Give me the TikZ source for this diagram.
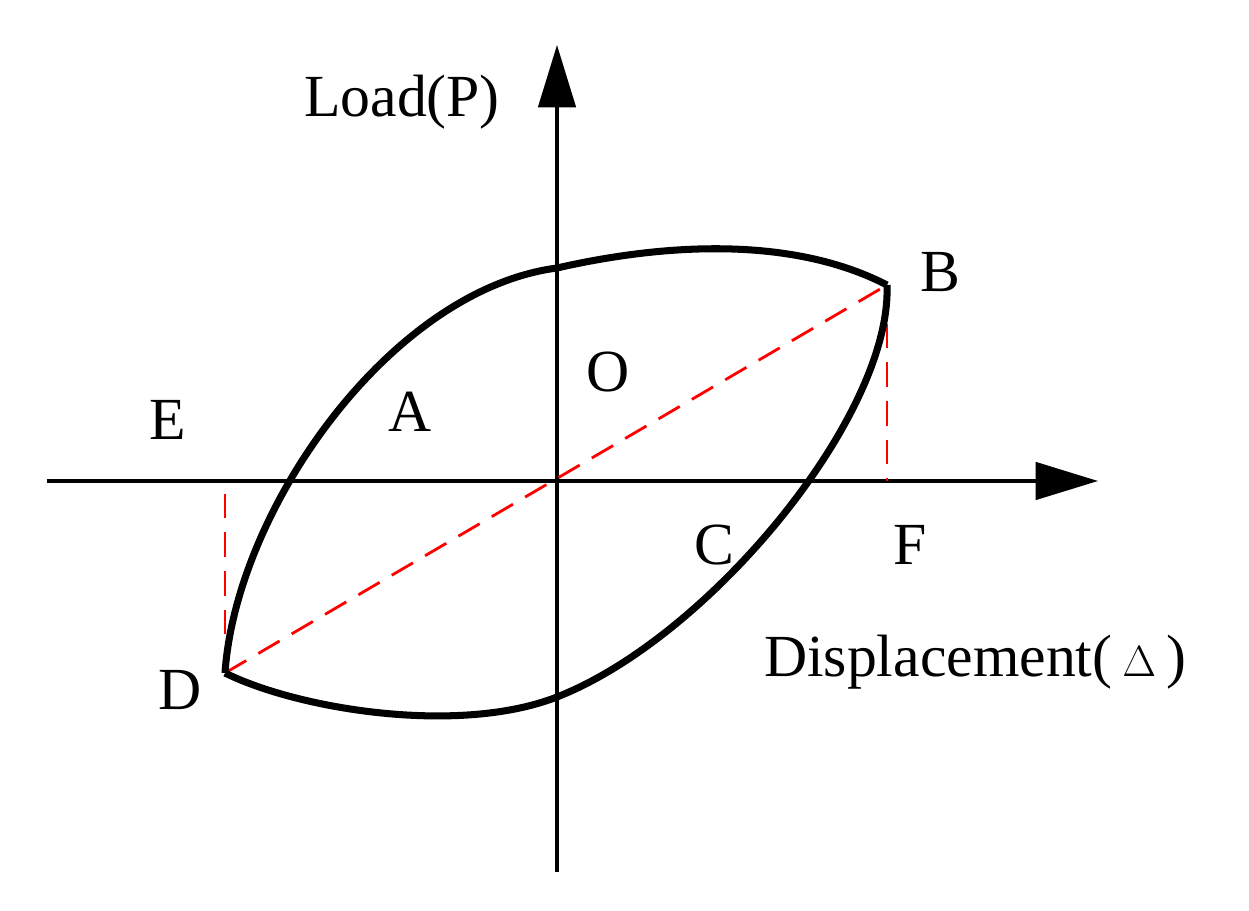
\documentclass[tikz,border=0pt]{standalone}
\usepackage{fontspec}
\setmainfont{Liberation Serif}
\usetikzlibrary{arrows.meta}
\begin{document}
\begin{tikzpicture}[x=0.02cm,y=-0.02cm,
  lbl/.style={font=\fontsize{34}{40}\selectfont,inner sep=0pt},
  ax/.style={line width=1.9pt,-{Triangle[length=1.25cm,width=0.75cm]}},
  curve/.style={line width=4pt},
  red/.style={draw=red,line width=1.6pt,dash pattern=on 14pt off 8pt}]
\useasboundingbox (0,0) rectangle (1249,911);
\coordinate (O) at (557,481);
\coordinate (B) at (887,285);
\coordinate (D) at (225,673);
\coordinate (F0) at (887,481);
\coordinate (E0) at (225,481);
\coordinate (yb) at (557,872);
\coordinate (yt) at (557,45);
\coordinate (xl) at (47,481);
\coordinate (xr) at (1098,481);
\coordinate (T) at (557,268);
\coordinate (U) at (557,697);
\draw[ax] (yb) -- (yt);
\draw[ax] (xl) -- (xr);
\draw[red] (D) -- (B);
\draw[red] (B) -- (F0);
\draw[red] (D) -- (E0);
\draw[curve,line join=round] (D) .. controls (236,510) and (390,290) .. (T) .. controls (680,240) and (800,240) .. (B);
\draw[curve,line join=round] (D) .. controls (300,710) and (460,735) .. (U) .. controls (710,637) and (892,415) .. (B);
\node[lbl] (lp) at (402,102) {Load(P)};
\node[lbl] (lb) at (940,272) {B};
\node[lbl] (lo) at (608,372) {O};
\node[lbl] (la) at (410,412) {A};
\node[lbl] (le) at (168,420) {E};
\node[lbl] (lc) at (714,545) {C};
\node[lbl] (lf) at (910,545) {F};
\node[lbl] (ld) at (180,690) {D};
\node[lbl] (ldisp) at (975,662) {Displacement(\,$\Delta$\,)};
\end{tikzpicture}
\end{document}
